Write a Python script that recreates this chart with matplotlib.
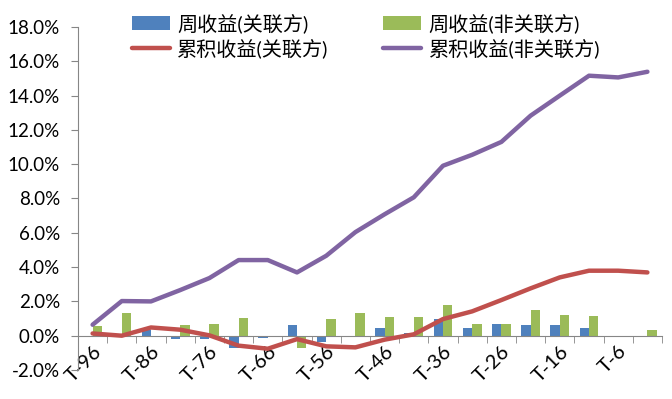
import matplotlib
matplotlib.use('Agg')
import matplotlib.pyplot as plt
import numpy as np

plt.rcParams['font.family'] = ['Lato', 'Noto Sans CJK SC', 'DejaVu Sans']

# -------------------- DATA --------------------
categories = ["T-%d" % d for d in range(96, 0, -5)]

weekly_related = [0.0, -0.05, 0.33, -0.22, -0.22, -0.74, -0.12, 0.62, -0.39, -0.10,
                  0.43, 0.17, 0.97, 0.43, 0.68, 0.62, 0.62, 0.43, -0.10, -0.10]
weekly_nonrelated = [0.58, 1.32, -0.10, 0.60, 0.70, 1.05, -0.10, -0.74, 0.97, 1.32,
                     1.07, 1.07, 1.77, 0.68, 0.68, 1.50, 1.22, 1.13, -0.10, 0.33]
cum_related = [0.13, 0.00, 0.48, 0.35, 0.02, -0.58, -0.76, -0.20, -0.62, -0.68,
               -0.23, 0.08, 0.97, 1.42, 2.08, 2.76, 3.40, 3.79, 3.79, 3.69]
cum_nonrelated = [0.64, 2.02, 2.00, 2.66, 3.36, 4.41, 4.41, 3.69, 4.66, 6.04,
                  7.08, 8.07, 9.91, 10.55, 11.30, 12.83, 14.00, 15.16, 15.06, 15.39]

legend_labels = ["周收益(关联方)", "周收益(非关联方)", "累积收益(关联方)", "累积收益(非关联方)"]

# -------------------- GRAPH --------------------
fig = plt.figure(figsize=(6.72, 3.99), dpi=100)
ax = fig.add_axes([78 / 672, 1 - 370 / 399, 584 / 672, 343 / 399])

x = np.arange(len(categories))
w = 0.32
axis_grey = "#868686"

# spine position first: set_position resets the ticks
ax.spines["bottom"].set_position(("data", 0))
ax.spines["bottom"].set_color(axis_grey)
ax.spines["left"].set_color(axis_grey)
ax.spines["top"].set_visible(False)
ax.spines["right"].set_visible(False)

b1 = ax.bar(x - w / 2, weekly_related, w, color="#4F81BD", zorder=2)
b2 = ax.bar(x + w / 2, weekly_nonrelated, w, color="#9BBB59", zorder=2)
l1, = ax.plot(x, cum_related, color="#C0504D", lw=3.2, zorder=3, solid_capstyle="round")
l2, = ax.plot(x, cum_nonrelated, color="#8064A2", lw=3.2, zorder=3, solid_capstyle="round")

ax.set_xlim(-0.5, len(categories) - 0.5)
ax.set_ylim(-2, 18)
ax.set_yticks(np.arange(-2, 18.1, 2))
ax.set_yticklabels(["%.1f%%" % v for v in np.arange(-2, 18.1, 2)])

ax.set_xticks(x[::2])
ax.set_xticklabels(categories[::2], rotation=45, ha="right", va="top",
                   rotation_mode="anchor")
ax.set_xticks(np.arange(0.5, len(categories), 1), minor=True)
ax.tick_params(axis="x", which="major", length=0, pad=5, labelsize=14.5, colors="black")
ax.tick_params(axis="x", which="minor", length=5, direction="out", color=axis_grey)
ax.tick_params(axis="y", length=5, direction="out", color=axis_grey, labelsize=13.5, pad=8)

handles = [b1, l1, b2, l2]
labels = [legend_labels[0], legend_labels[2], legend_labels[1], legend_labels[3]]
fig.legend(handles, labels, loc="upper left", bbox_to_anchor=(114 / 672, 1.012),
           ncol=2, frameon=False, fontsize=14.5, handlelength=1.9, handletextpad=0.35,
           columnspacing=2.7, labelspacing=0.25)

plt.savefig("out.png", dpi=100)
plt.close()
